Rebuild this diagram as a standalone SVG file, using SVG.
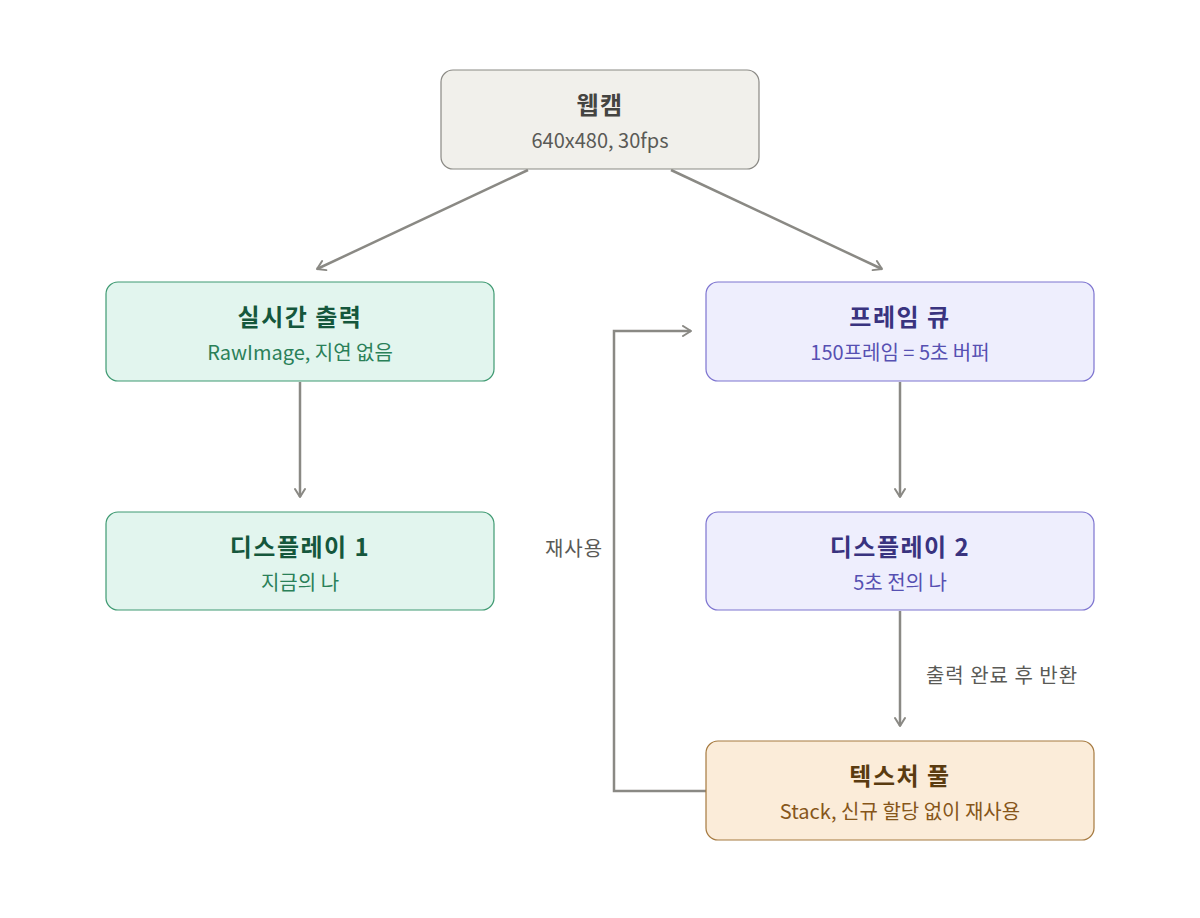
<svg xmlns="http://www.w3.org/2000/svg" width="1200" height="918" viewBox="0 0 1200 918">
<defs>
<marker id="arr" viewBox="0 0 12 12" refX="10" refY="6" markerWidth="12" markerHeight="12" markerUnits="userSpaceOnUse" orient="auto">
<path d="M2,1 L10,6 L2,11" fill="none" stroke="#8a8984" stroke-width="2" stroke-linecap="round" stroke-linejoin="round"/>
</marker>
<style>
text{font-family:"Noto Sans CJK KR","Noto Sans",sans-serif;text-anchor:middle}
.t{font-size:24px;font-weight:700;letter-spacing:1.5px}
.s{font-size:20px}
.lbl{font-size:20px;fill:#5a5a56;letter-spacing:1px}
.c{fill:none;stroke:#8a8984;stroke-width:2.5;marker-end:url(#arr)}
.gray rect{fill:#f1f0eb;stroke:#8a8984}
.gray .t{fill:#444441}.gray .s{fill:#5a5a56}
.green rect{fill:#e2f5ee;stroke:#3f9a72}
.green .t{fill:#15573c}.green .s{fill:#2a8058}
.purple rect{fill:#eeeefd;stroke:#7d74d0}
.purple .t{fill:#39337f}.purple .s{fill:#5650b2}
.brown rect{fill:#fbecd9;stroke:#a67a40}
.brown .t{fill:#5a3b10}.brown .s{fill:#86561a}
rect{stroke-width:1.2}
</style>
</defs>
<rect width="1200" height="918" fill="#ffffff"/>
<g id="connectors">
<line class="c" x1="528" y1="170" x2="317" y2="269"/>
<line class="c" x1="671" y1="170" x2="882" y2="269"/>
<line class="c" x1="300" y1="382" x2="300" y2="497"/>
<line class="c" x1="900" y1="382" x2="900" y2="497"/>
<line class="c" x1="900" y1="611" x2="900" y2="726"/>
<polyline class="c" points="706,791 614,791 614,331 691,331"/>
<text class="lbl" x="574" y="556">재사용</text>
<text class="lbl" x="1002" y="683">출력 완료 후 반환</text>
</g>
<g id="webcam" class="gray">
<rect x="441" y="70" width="318" height="99" rx="12"/>
<text class="t" x="600" y="114">웹캠</text>
<text class="s" x="600" y="148">640x480, 30fps</text>
</g>
<g id="realtime" class="green">
<rect x="106" y="282" width="388" height="99" rx="12"/>
<text class="t" x="300" y="326">실시간 출력</text>
<text class="s" x="300" y="360">RawImage, 지연 없음</text>
</g>
<g id="framequeue" class="purple">
<rect x="706" y="282" width="388" height="99" rx="12"/>
<text class="t" x="900" y="326">프레임 큐</text>
<text class="s" x="900" y="360">150프레임 = 5초 버퍼</text>
</g>
<g id="display1" class="green">
<rect x="106" y="512" width="388" height="98" rx="12"/>
<text class="t" x="300" y="556">디스플레이 1</text>
<text class="s" x="300" y="590">지금의 나</text>
</g>
<g id="display2" class="purple">
<rect x="706" y="512" width="388" height="98" rx="12"/>
<text class="t" x="900" y="556">디스플레이 2</text>
<text class="s" x="900" y="590">5초 전의 나</text>
</g>
<g id="texturepool" class="brown">
<rect x="706" y="741" width="388" height="99" rx="12"/>
<text class="t" x="900" y="785">텍스처 풀</text>
<text class="s" x="900" y="819">Stack, 신규 할당 없이 재사용</text>
</g>
</svg>
